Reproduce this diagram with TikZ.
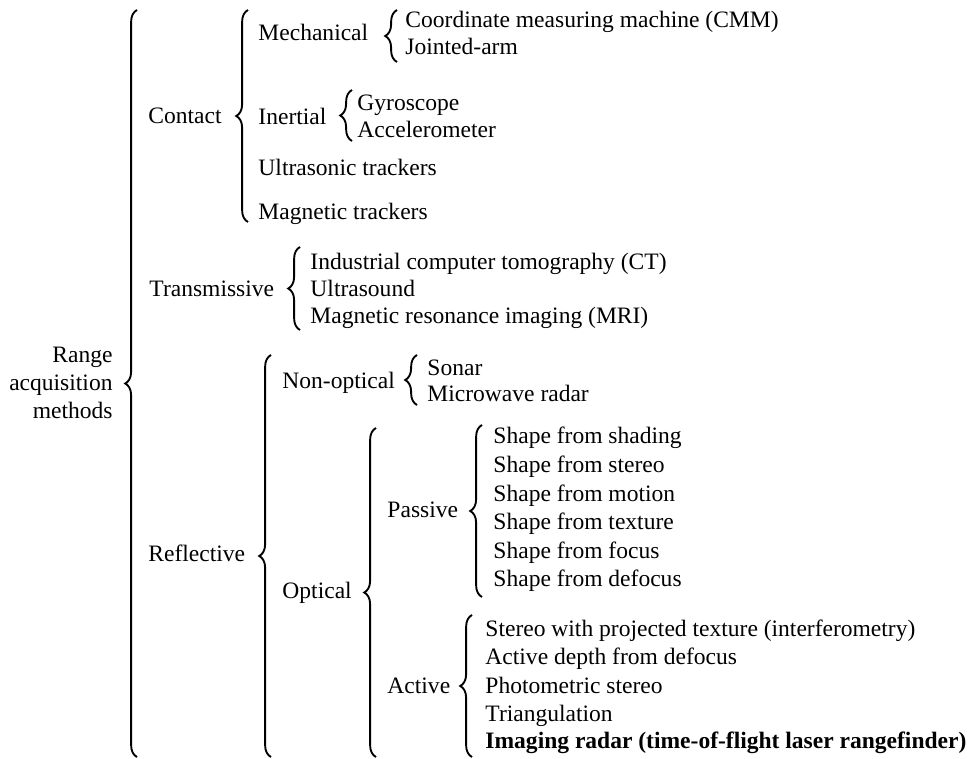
\documentclass[tikz,border=0pt]{standalone}
\usepackage{fontspec}
\setmainfont{Liberation Serif}
\usetikzlibrary{decorations.pathreplacing}

\begin{document}
\begin{tikzpicture}[x=.425pt,y=-.425pt,
  lbl/.style={anchor=base west,inner sep=0pt,font=\fontsize{10}{12}\selectfont},
  brc/.style={decorate,decoration={brace,amplitude=5pt},line width=.8pt}]
\path[use as bounding box] (0,0) rectangle (977,759);
% root
\node[anchor=east,align=right,inner sep=0pt,font=\fontsize{10}{12}\selectfont] (rng) at (113,383) {Range\\acquisition\\methods};
\draw[brc] (137,757)--(137,10);
% first level
\node[lbl] (ctc) at (148,124) {Contact};
\node[lbl] (trn) at (149,297) {Transmissive};
\node[lbl] (rfl) at (148,562) {Reflective};
% contact
\draw[brc] (248,222)--(248,10);
\node[lbl] (mch) at (258,41) {Mechanical};
\node[lbl] (inr) at (258,125) {Inertial};
\node[lbl] (ust) at (258,176) {Ultrasonic trackers};
\node[lbl] (mgt) at (258,220) {Magnetic trackers};
\draw[brc] (397,62)--(397,10);
\node[lbl] (cmm) at (405,28) {Coordinate measuring machine (CMM)};
\node[lbl] (jnt) at (405,55) {Jointed-arm};
\draw[brc] (352,141)--(352,90);
\node[lbl] (gyr) at (357,111) {Gyroscope};
\node[lbl] (acc) at (357,138) {Accelerometer};
% transmissive
\draw[brc] (300,330)--(300,247);
\node[lbl] (ict) at (310,270) {Industrial computer tomography (CT)};
\node[lbl] (usd) at (310,297) {Ultrasound};
\node[lbl] (mri) at (310,324) {Magnetic resonance imaging (MRI)};
% reflective
\draw[brc] (271,757)--(271,355);
\node[lbl] (nop) at (282,389) {Non-optical};
\node[lbl] (opt) at (282,599) {Optical};
\draw[brc] (417,405)--(417,355);
\node[lbl] (snr) at (427,376) {Sonar};
\node[lbl] (mwr) at (427,402) {Microwave radar};
\draw[brc] (376,757)--(376,428);
\node[lbl] (psv) at (387,518) {Passive};
\node[lbl] (act) at (387,694) {Active};
\draw[brc] (482,597)--(482,425);
\node[lbl] (sh1) at (493,444) {Shape from shading};
\node[lbl] (sh2) at (493,472.6) {Shape from stereo};
\node[lbl] (sh3) at (493,501.2) {Shape from motion};
\node[lbl] (sh4) at (493,529.8) {Shape from texture};
\node[lbl] (sh5) at (493,558.4) {Shape from focus};
\node[lbl] (sh6) at (493,587) {Shape from defocus};
\draw[brc] (472,757)--(472,615);
\node[lbl] (ac1) at (485,637) {Stereo with projected texture (interferometry)};
\node[lbl] (ac2) at (485,665) {Active depth from defocus};
\node[lbl] (ac3) at (485,694) {Photometric stereo};
\node[lbl] (ac4) at (485,722) {Triangulation};
\node[lbl,font=\fontsize{10}{12}\selectfont\bfseries] (ac5) at (485,749) {Imaging radar (time-of-flight laser rangefinder)};
\end{tikzpicture}
\end{document}
